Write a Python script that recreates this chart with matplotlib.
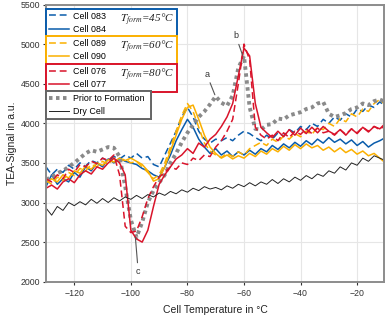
import matplotlib
matplotlib.use("Agg")
import matplotlib.pyplot as plt

plt.rcParams['font.family'] = ['Liberation Sans', 'DejaVu Sans']
plt.rcParams['mathtext.fontset'] = 'stix'

# ---------------- data ----------------
temp = list(range(-130, -9, 2))

dry_cell = [2930, 2840, 2950, 2900, 3000, 2960, 3010, 2970, 3040, 2990, 3050, 3000, 3060, 3020, 3070, 3040,
            3090, 3050, 3100, 3070, 3120, 3090, 3140, 3110, 3160, 3130, 3180, 3150, 3200, 3170, 3190, 3160,
            3210, 3180, 3230, 3200, 3250, 3210, 3260, 3230, 3290, 3240, 3300, 3260, 3320, 3280, 3340, 3300,
            3360, 3330, 3400, 3370, 3450, 3410, 3500, 3470, 3560, 3520, 3590, 3560, 3530]

prior = [3290, 3320, 3370, 3400, 3450, 3500, 3560, 3620, 3660, 3640, 3670, 3700, 3690, 3580, 3200, 2780,
         2560, 2750, 3000, 3150, 3250, 3350, 3500, 3620, 3760, 3880, 3980, 4080, 4150, 4240, 4340, 4260,
         4220, 4350, 4700, 4850, 4200, 3930, 3920, 3980, 3990, 4060, 4050, 4100, 4120, 4140, 4180, 4200,
         4250, 4270, 4120, 4080, 4100, 4130, 4180, 4200, 4250, 4230, 4280, 4300, 4270]

cell_076 = [3300, 3260, 3350, 3300, 3420, 3380, 3480, 3450, 3520, 3490, 3560, 3530, 3600, 3350, 2700, 2620,
            2640, 2820, 3050, 3200, 3320, 3380, 3450, 3420, 3500, 3480, 3560, 3530, 3600, 3580, 3700, 3780,
            3900, 4050, 4500, 5000, 4800, 3950, 3850, 3800, 3850, 3780, 3880, 3820, 3900, 3860, 3930, 3870,
            3940, 3880, 3900, 3850, 3920, 3860, 3930, 3880, 3950, 3900, 3960, 3920, 3980]

cell_077 = [3180, 3220, 3170, 3260, 3300, 3250, 3350, 3400, 3360, 3450, 3420, 3500, 3560, 3500, 3350, 2650,
            2540, 2500, 2650, 2950, 3230, 3350, 3450, 3550, 3600, 3680, 3620, 3750, 3700, 3800, 3860, 3960,
            4080, 4250, 4600, 4950, 4850, 4250, 3950, 3880, 3820, 3900, 3830, 3920, 3850, 3940, 3870, 3950,
            3880, 3960, 3900, 3860, 3920, 3850, 3930, 3870, 3950, 3890, 3960, 3930, 4000]

cell_083 = [3450, 3350, 3420, 3380, 3470, 3420, 3500, 3460, 3530, 3500, 3560, 3520, 3580, 3550, 3600, 3560,
            3620, 3560, 3580, 3480, 3450, 3600, 3750, 3900, 4080, 4200, 4080, 3900, 3800, 3750, 3800, 3780,
            3820, 3780, 3850, 3900, 3870, 3820, 3780, 3850, 3800, 3880, 3840, 3920, 3880, 3960, 3920, 4000,
            3960, 4050, 4000, 4080, 4040, 4120, 4080, 4180, 4150, 4230, 4200, 4270, 4220]

cell_084 = [3200, 3350, 3230, 3300, 3260, 3380, 3320, 3450, 3400, 3500, 3450, 3550, 3500, 3560, 3520, 3500,
            3480, 3430, 3400, 3350, 3320, 3450, 3600, 3780, 3920, 4050, 3950, 3800, 3700, 3620, 3680, 3600,
            3650, 3580, 3640, 3600, 3660, 3610, 3680, 3640, 3720, 3670, 3740, 3690, 3760, 3710, 3780, 3730,
            3800, 3750, 3820, 3760, 3800, 3740, 3790, 3720, 3770, 3700, 3750, 3780, 3820]

cell_089 = [3280, 3230, 3320, 3280, 3380, 3340, 3430, 3400, 3480, 3450, 3520, 3480, 3560, 3520, 3550, 3500,
            3520, 3450, 3380, 3300, 3350, 3500, 3700, 3900, 4100, 4250, 4150, 3950, 3750, 3650, 3600, 3570,
            3620, 3580, 3640, 3600, 3680, 3720, 3760, 3720, 3800, 3760, 3840, 3800, 3870, 3830, 3900, 3860,
            3950, 3920, 4000, 3960, 4060, 4020, 4120, 4080, 4180, 4150, 4250, 4300, 4230]

cell_090 = [3250, 3300, 3260, 3350, 3310, 3400, 3370, 3460, 3420, 3500, 3470, 3540, 3510, 3560, 3530, 3560,
            3520, 3480, 3400, 3270, 3300, 3450, 3650, 3850, 4050, 4200, 4230, 4050, 3850, 3700, 3620, 3560,
            3600, 3550, 3590, 3560, 3620, 3580, 3650, 3610, 3680, 3640, 3710, 3660, 3730, 3680, 3740, 3690,
            3720, 3660, 3700, 3640, 3690, 3630, 3670, 3610, 3650, 3590, 3620, 3560, 3500]

x_ticks = [-120, -100, -80, -60, -40, -20]
y_ticks = [2000, 2500, 3000, 3500, 4000, 4500, 5000, 5500]

BLUE = '#0a5cab'
ORANGE = '#fbb000'
RED = '#d9142b'
GREY = '#8a8a8a'

# ---------------- figure ----------------
fig = plt.figure(figsize=(3.85, 3.19), dpi=100)
ax = fig.add_axes([46 / 385, 1 - 281.7 / 319, 338 / 385, 277.2 / 319])

dash = (0, (4.5, 2.5))
lw = 1.1
h083, = ax.plot(temp, cell_083, color=BLUE, lw=lw, ls=dash)
h084, = ax.plot(temp, cell_084, color=BLUE, lw=lw)
h089, = ax.plot(temp, cell_089, color=ORANGE, lw=lw, ls=dash)
h090, = ax.plot(temp, cell_090, color=ORANGE, lw=lw)
hpri, = ax.plot(temp, prior, color=GREY, lw=2.8, ls=(0, (0.9, 0.9)))
h076, = ax.plot(temp, cell_076, color=RED, lw=lw, ls=dash)
h077, = ax.plot(temp, cell_077, color=RED, lw=lw)
hdry, = ax.plot(temp, dry_cell, color='#222222', lw=0.7)

ax.set_xlim(-130, -10.5)
ax.set_ylim(2000, 5500)
ax.set_xticks(x_ticks)
ax.set_yticks(y_ticks)
ax.set_xticklabels(['\u2212%d' % abs(v) for v in x_ticks])
ax.grid(True, color='#e6e6e6', lw=0.8)
ax.set_axisbelow(True)
for s in ax.spines.values():
    s.set_color('#8c8c8c')
    s.set_linewidth(1.4)
ax.tick_params(labelsize=6.3, colors='#333333', length=2.5, width=0.8)
ax.tick_params(axis='x', pad=3)
ax.tick_params(axis='y', pad=1.5)
ax.set_xlabel('Cell Temperature in \u00b0C', fontsize=7.5, color='#222222', labelpad=5)
ax.set_ylabel('TEA-Signal in a.u.', fontsize=7.5, color='#222222', labelpad=3)

# annotations
ann = dict(arrowstyle='-', color='#555555', lw=0.8, shrinkA=1, shrinkB=0)
ax.annotate('a', xy=(-70.3, 4360), xytext=(-73.2, 4620), fontsize=6.5, ha='center', va='center',
            color='#333333', arrowprops=ann)
ax.annotate('b', xy=(-60.5, 4860), xytext=(-62.9, 5105), fontsize=6.5, ha='center', va='center',
            color='#333333', arrowprops=ann)
ax.annotate('c', xy=(-98.4, 2560), xytext=(-97.4, 2130), fontsize=6.5, ha='center', va='center',
            color='#333333', arrowprops=ann)


# legends
def box_legend(handles, labels, top, width, ec):
    leg = ax.legend(handles, labels, loc='upper left', bbox_to_anchor=(0.0, top, width, 0.0),
                    bbox_transform=ax.transAxes, mode='expand', borderaxespad=0.0, frameon=True,
                    fancybox=False, edgecolor=ec, framealpha=1, fontsize=6.4, handlelength=2.3,
                    handletextpad=0.45, labelspacing=0.5, borderpad=0.3)
    leg.get_frame().set_linewidth(1.4)
    ax.add_artist(leg)
    return leg


box_legend([h083, h084], ['Cell 083', 'Cell 084'], 0.984, 0.388, BLUE)
box_legend([h089, h090], ['Cell 089', 'Cell 090'], 0.886, 0.388, ORANGE)
box_legend([h076, h077], ['Cell 076', 'Cell 077'], 0.785, 0.388, RED)
box_legend([hpri, hdry], ['Prior to Formation', 'Dry Cell'], 0.688, 0.312, '#666666')

tkw = dict(transform=ax.transAxes, fontsize=8, family='Liberation Serif', style='italic',
           va='center', ha='left', color='#222222', zorder=20)
ax.text(0.219, 0.944, r'$T_{form}$=45°C', **tkw)
ax.text(0.219, 0.847, r'$T_{form}$=60°C', **tkw)
ax.text(0.219, 0.745, r'$T_{form}$=80°C', **tkw)

fig.savefig('out.png', dpi=100)
